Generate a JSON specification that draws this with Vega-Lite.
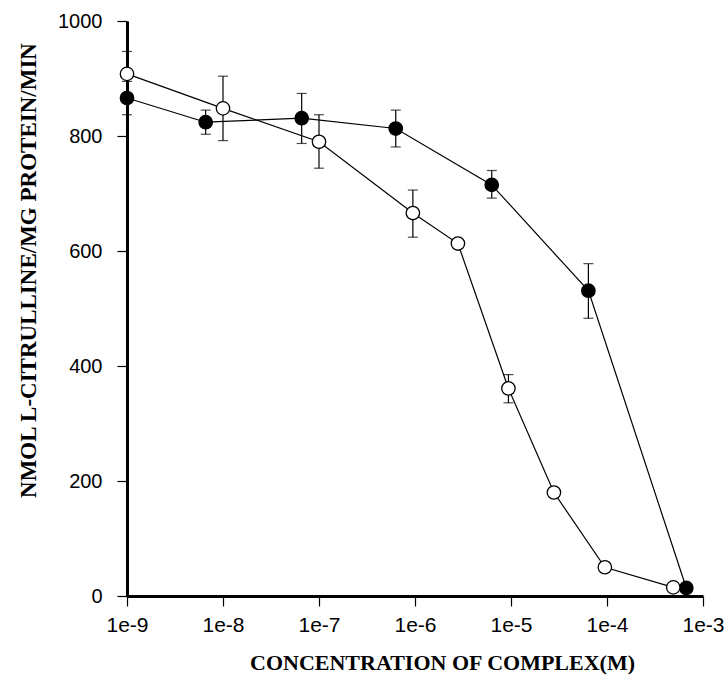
{
  "$schema": "https://vega.github.io/schema/vega-lite/v6.json",
  "width": 576,
  "height": 575,
  "autosize": {"type": "none"},
  "padding": {"left": 127, "top": 21, "right": 24, "bottom": 81},
  "background": "white",
  "config": {
    "view": {"stroke": null},
    "axis": {
      "grid": false,
      "domainColor": "black",
      "domainWidth": 3,
      "tickColor": "black",
      "tickWidth": 1.2,
      "tickSize": 10,
      "labelFont": "Liberation Sans",
      "labelColor": "black",
      "titleFont": "Liberation Serif",
      "titleFontWeight": "bold",
      "titleColor": "black",
      "titleBaseline": "alphabetic"
    }
  },
  "data": {
    "values": [
      {"series": "filled", "conc": 1e-9, "value": 866, "lo": 837, "hi": 895},
      {"series": "filled", "conc": 6.6e-9, "value": 824, "lo": 803, "hi": 845},
      {"series": "filled", "conc": 6.6e-8, "value": 831, "lo": 787, "hi": 874},
      {"series": "filled", "conc": 6.3e-7, "value": 813, "lo": 781, "hi": 845},
      {"series": "filled", "conc": 6.3e-6, "value": 715, "lo": 692, "hi": 740},
      {"series": "filled", "conc": 6.4e-5, "value": 531, "lo": 483, "hi": 578},
      {"series": "filled", "conc": 6.7e-4, "value": 14},
      {"series": "open", "conc": 1e-9, "value": 908, "lo": 869, "hi": 947},
      {"series": "open", "conc": 1e-8, "value": 848, "lo": 792, "hi": 904},
      {"series": "open", "conc": 1e-7, "value": 790, "lo": 744, "hi": 837},
      {"series": "open", "conc": 9.5e-7, "value": 666, "lo": 624, "hi": 706},
      {"series": "open", "conc": 2.8e-6, "value": 613},
      {"series": "open", "conc": 9.4e-6, "value": 361, "lo": 336, "hi": 385},
      {"series": "open", "conc": 2.8e-5, "value": 180},
      {"series": "open", "conc": 9.5e-5, "value": 50},
      {"series": "open", "conc": 4.9e-4, "value": 15}
    ]
  },
  "encoding": {
    "x": {
      "field": "conc",
      "type": "quantitative",
      "scale": {"type": "log", "domain": [1e-9, 1e-3], "nice": false},
      "axis": {
        "values": [1e-9, 1e-8, 1e-7, 1e-6, 1e-5, 1e-4, 1e-3],
        "labelExpr": "'1e' + round(log(datum.value) / LN10)",
        "labelFlush": false,
        "labelFontSize": 21,
        "labelPadding": 8,
        "title": "CONCENTRATION OF COMPLEX(M)",
        "titleFontSize": 22,
        "titleX": 315,
        "titleY": 73
      }
    }
  },
  "layer": [
    {
      "mark": {"type": "line", "color": "black", "strokeWidth": 1.2},
      "encoding": {
        "y": {
          "field": "value",
          "type": "quantitative",
          "scale": {"domain": [0, 1000], "nice": false},
          "axis": {
            "values": [0, 200, 400, 600, 800, 1000],
            "format": "d",
            "labelFontSize": 20,
            "labelPadding": 15,
            "title": "NMOL L-CITRULLINE/MG PROTEIN/MIN",
            "titleFontSize": 23,
            "titleX": -92,
            "titleY": 249
          }
        },
        "detail": {"field": "series"}
      }
    },
    {
      "transform": [{"filter": "isValid(datum.lo)"}],
      "mark": {"type": "rule", "color": "black", "strokeWidth": 1.2},
      "encoding": {
        "y": {"field": "lo", "type": "quantitative"},
        "y2": {"field": "hi"}
      }
    },
    {
      "transform": [{"filter": "isValid(datum.lo)"}],
      "mark": {"type": "tick", "orient": "horizontal", "color": "black", "size": 10, "thickness": 1.2},
      "encoding": {"y": {"field": "lo", "type": "quantitative"}}
    },
    {
      "transform": [{"filter": "isValid(datum.hi)"}],
      "mark": {"type": "tick", "orient": "horizontal", "color": "black", "size": 10, "thickness": 1.2},
      "encoding": {"y": {"field": "hi", "type": "quantitative"}}
    },
    {
      "mark": {"type": "point", "shape": "circle", "size": 180, "stroke": "black", "strokeWidth": 1.3, "opacity": 1},
      "encoding": {
        "y": {"field": "value", "type": "quantitative"},
        "fill": {
          "field": "series",
          "type": "nominal",
          "scale": {"domain": ["filled", "open"], "range": ["black", "white"]},
          "legend": null
        }
      }
    }
  ]
}
